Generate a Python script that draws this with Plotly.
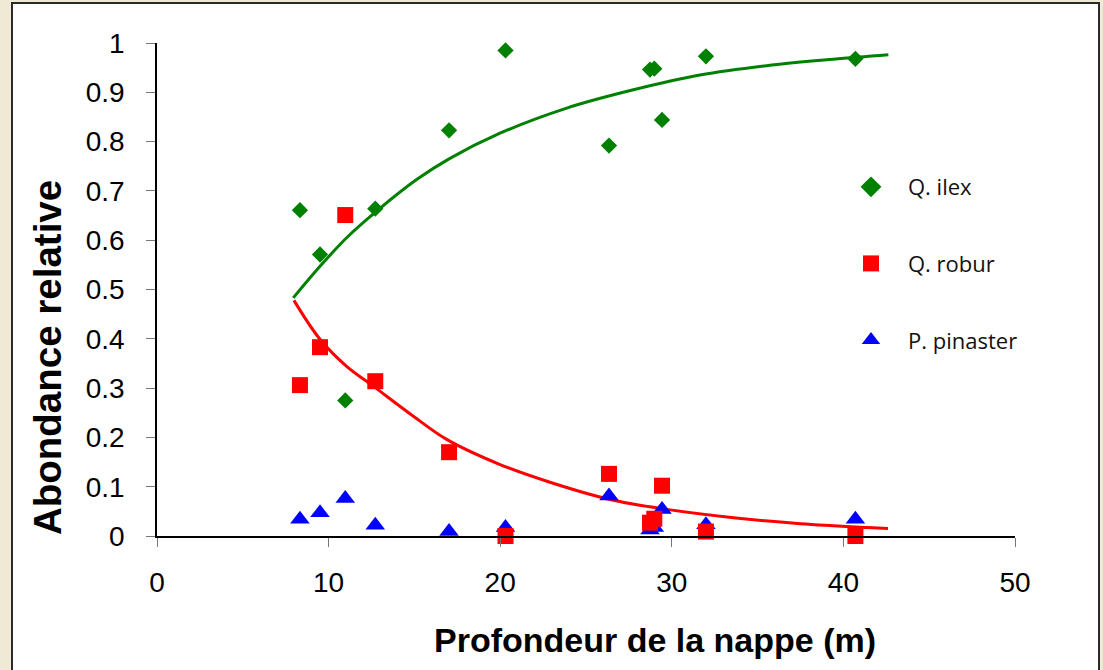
import plotly.graph_objects as go

# ---------------- data ----------------
depth = [8.33, 9.5, 10.97, 12.72, 17.02, 20.31, 26.34, 28.73, 28.98, 29.43, 31.99, 40.7]
q_ilex = [0.661, 0.571, 0.275, 0.664, 0.823, 0.985, 0.792, 0.946, 0.948, 0.844, 0.973, 0.968]
q_robur = [0.306, 0.383, 0.651, 0.314, 0.170, 0.0, 0.126, 0.027, 0.035, 0.102, 0.009, 0.0]
p_pinaster = [0.034, 0.047, 0.076, 0.022, 0.009, 0.017, 0.081, 0.012, 0.017, 0.054, 0.023, 0.034]

fit_ilex_x = [7.94, 9.50, 11.05, 12.80, 15.13, 17.02, 19.99, 23.88, 27.76, 31.64, 35.53, 39.41, 42.62]
fit_ilex_y = [0.483, 0.547, 0.605, 0.659, 0.723, 0.765, 0.817, 0.868, 0.905, 0.935, 0.954, 0.967, 0.976]

fit_robur_x = [7.98, 9.50, 11.05, 12.60, 14.94, 16.88, 19.99, 22.90, 26.40, 29.70, 33.60, 37.50, 41.40, 42.60]
fit_robur_y = [0.478, 0.399, 0.344, 0.304, 0.243, 0.196, 0.145, 0.109, 0.074, 0.054, 0.037, 0.025, 0.017, 0.015]

series_names = ["Q. ilex", "Q. robur", "P. pinaster"]
x_ticks = [0, 10, 20, 30, 40, 50]
y_ticks = [0, 0.1, 0.2, 0.3, 0.4, 0.5, 0.6, 0.7, 0.8, 0.9, 1]
y_ticktext = ["0", "0.1", "0.2", "0.3", "0.4", "0.5", "0.6", "0.7", "0.8", "0.9", "1"]
x_title = "Profondeur de la nappe (m)"
y_title = "Abondance relative"

GREEN = "#008000"
RED = "#ff0000"
BLUE = "#0000ff"

fig = go.Figure()

# fitted curves (drawn first, under the markers)
fig.add_trace(go.Scatter(x=fit_ilex_x, y=fit_ilex_y, mode="lines", line=dict(color=GREEN, width=3, shape="spline"),
                         showlegend=False, hoverinfo="skip"))
fig.add_trace(go.Scatter(x=fit_robur_x, y=fit_robur_y, mode="lines", line=dict(color=RED, width=3, shape="spline"),
                         showlegend=False, hoverinfo="skip"))

fig.add_trace(go.Scatter(x=depth, y=p_pinaster, mode="markers", name=series_names[2], legendgroup="c",
                         showlegend=False, cliponaxis=False,
                         marker=dict(symbol="triangle-up", size=17, color=BLUE)))
fig.add_trace(go.Scatter(x=depth, y=q_robur, mode="markers", name=series_names[1], legendgroup="b",
                         showlegend=False, cliponaxis=False,
                         marker=dict(symbol="square", size=16, color=RED)))
fig.add_trace(go.Scatter(x=depth, y=q_ilex, mode="markers", name=series_names[0], legendgroup="a",
                         showlegend=False, cliponaxis=False,
                         marker=dict(symbol="diamond", size=12.5, color=GREEN)))

# legend entries (larger symbols, as in the original legend)
legend_styles = [("a", "diamond", GREEN, 16), ("b", "square", RED, 16), ("c", "triangle-up", BLUE, 16)]
for rank, (name, (grp, sym, col, sz)) in enumerate(zip(series_names, legend_styles), start=1):
    fig.add_trace(go.Scatter(x=[None], y=[None], mode="markers", name=name, legendgroup=grp, legendrank=rank,
                             marker=dict(symbol=sym, size=sz, color=col), hoverinfo="skip"))

L, R, T, B = 157, 88, 43, 134
W, H = 1103, 670
pw, ph = W - L - R, H - T - B

def px(xp):
    return (xp - L) / pw

def py(yp):
    return (H - B - yp) / ph

# white panel with dark border on beige background
fig.add_shape(type="rect", xref="paper", yref="paper",
              x0=px(12), x1=px(1099), y0=py(700), y1=py(3),
              fillcolor="white", line=dict(color="#2a2a2a", width=2), layer="below")

axis_font = dict(family="Liberation Sans, Arial, sans-serif", size=28, color="black")

fig.update_xaxes(range=[0, 50], tickvals=x_ticks, ticks="outside", ticklen=9, tickcolor="#777777", tickwidth=1,
                 showline=True, linecolor="black", linewidth=1.5, showgrid=False, zeroline=False,
                 tickfont=axis_font, ticklabelstandoff=12)
fig.update_yaxes(range=[0, 1], tickvals=y_ticks, ticktext=y_ticktext, ticks="outside", ticklen=9,
                 tickcolor="#777777", tickwidth=1,
                 showline=True, linecolor="black", linewidth=1.5, showgrid=False, zeroline=False,
                 tickfont=axis_font, ticklabelstandoff=16)

fig.add_annotation(text=x_title, xref="paper", yref="paper", x=px(655), y=py(640), showarrow=False,
                   xanchor="center", yanchor="middle",
                   font=dict(family="Liberation Sans, Arial, sans-serif", size=34, color="black", weight="bold"))
fig.add_annotation(text=y_title, xref="paper", yref="paper", x=px(47), y=py(358), showarrow=False,
                   textangle=-90, xanchor="center", yanchor="middle",
                   font=dict(family="Liberation Sans, Arial, sans-serif", size=38.5, color="black", weight="bold"))

fig.update_layout(
    width=W, height=H,
    margin=dict(l=L, r=R, t=T, b=B, pad=0),
    paper_bgcolor="#efe9d6",
    plot_bgcolor="rgba(0,0,0,0)",
    legend=dict(x=px(834), y=py(166), xanchor="left", yanchor="top", bgcolor="rgba(0,0,0,0)",
                font=dict(family="Open Sans, sans-serif", size=22, color="#111111"),
                tracegroupgap=45, itemwidth=64),
)

fig.write_html("out.html", config={"displayModeBar": False},
               post_script="document.body.style.margin='0';")
